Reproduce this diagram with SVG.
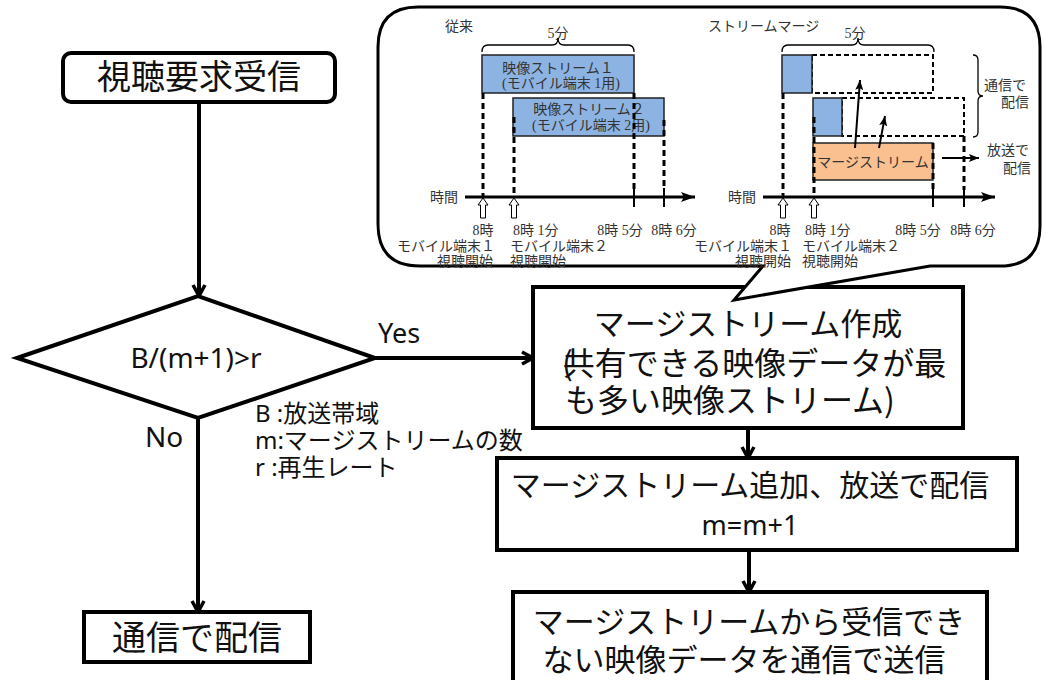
<svg xmlns="http://www.w3.org/2000/svg" width="1046" height="680" viewBox="0 0 1046 680">
<style>
.node{fill:#fff;stroke:#000;stroke-width:4}
.jp{font-family:"Noto Sans CJK JP",sans-serif;fill:#111}
.lat{font-family:"Noto Sans","Noto Sans CJK JP",sans-serif;fill:#111}
.sm{font-family:"Liberation Serif","Noto Sans CJK JP",serif;fill:#333;font-size:14px}
.conn{stroke:#000;stroke-width:4;fill:none;marker-end:url(#ah)}
.dash{stroke:#000;stroke-width:3;stroke-dasharray:6 4;fill:none}
.drect{fill:#fff;stroke:#000;stroke-width:2;stroke-dasharray:5 3}
.blue{fill:#8DB3E2;stroke:#222;stroke-width:1.5}
.orange{fill:#FAC090;stroke:#222;stroke-width:1.5}
.thin{stroke:#000;stroke-width:1.3;fill:none}
.tick{stroke:#000;stroke-width:2;fill:none}
.axis{stroke:#000;stroke-width:3;fill:none;marker-end:url(#ax)}
.sarrow{stroke:#000;stroke-width:2;fill:none;marker-end:url(#sa)}
.hollow{fill:#fff;stroke:#000;stroke-width:1}
</style>
<defs>
<marker id="ah" markerUnits="userSpaceOnUse" viewBox="0 0 16 16" refX="14" refY="8" markerWidth="16" markerHeight="16" orient="auto"><path d="M3,2 L14,8 L3,14" fill="none" stroke="#000" stroke-width="3.5"/></marker>
<marker id="ax" markerUnits="userSpaceOnUse" viewBox="0 0 14 10" refX="14" refY="5" markerWidth="14" markerHeight="10" orient="auto"><path d="M0,0 L14,5 L0,10 L3,5 Z" fill="#000"/></marker>
<marker id="sa" markerUnits="userSpaceOnUse" viewBox="0 0 10 8" refX="10" refY="4" markerWidth="10" markerHeight="8" orient="auto"><path d="M0,0 L10,4 L0,8 L2,4 Z" fill="#000"/></marker>
</defs>

<g id="connectors">
<line class="conn" x1="199" y1="102" x2="199" y2="296"/>
<line class="conn" x1="375" y1="358" x2="533" y2="358"/>
<line class="conn" x1="198" y1="418" x2="198" y2="612"/>
<line class="conn" x1="748" y1="428" x2="748" y2="458"/>
<line class="conn" x1="749" y1="550" x2="749" y2="592"/>
<text class="lat" x="378" y="343" font-size="27">Yes</text>
<text class="lat" x="145" y="447" font-size="28">No</text>
</g>

<g id="start">
<rect class="node" x="63" y="53" width="272" height="49" rx="8" stroke-width="3"/>
<text class="jp" x="199" y="89" font-size="34" text-anchor="middle">視聴要求受信</text>
</g>

<g id="decision">
<polygon class="node" points="17,358 198,296 375,358 198,418"/>
<text class="lat" x="196" y="368" font-size="28" text-anchor="middle">B/(m+1)&gt;r</text>
</g>

<g id="legend">
<text class="lat" x="255" y="422" font-size="24">B :放送帯域</text>
<text class="lat" x="255" y="449" font-size="24">m:マージストリームの数</text>
<text class="lat" x="255" y="476" font-size="24">r :再生レート</text>
</g>

<g id="comm">
<rect class="node" x="84" y="612" width="226" height="50"/>
<text class="jp" x="197" y="650" font-size="34" text-anchor="middle">通信で配信</text>
</g>

<g id="create">
<rect class="node" x="533" y="287" width="430" height="141" stroke-width="4.5"/>
<text class="jp" x="748" y="335" font-size="31" text-anchor="middle">マージストリーム作成</text>
<text class="jp" x="562" y="375" font-size="32">(<tspan dx="-10">共有できる映像データが最</tspan></text>
<text class="jp" x="565" y="412" font-size="32">も多い映像ストリーム)</text>
</g>

<g id="add">
<rect class="node" x="497" y="458" width="520" height="92"/>
<text class="jp" x="750" y="496" font-size="30" text-anchor="middle">マージストリーム追加、放送で配信</text>
<text class="lat" x="750" y="535" font-size="27" text-anchor="middle">m=m+1</text>
</g>

<g id="send">
<rect class="node" x="513" y="592" width="474" height="110"/>
<text class="jp" x="749" y="633" font-size="31" text-anchor="middle">マージストリームから受信でき</text>
<text class="jp" x="744" y="671" font-size="31" text-anchor="middle">ない映像データを通信で送信</text>
</g>

<g id="callout">
<path d="M418,7 H1000 Q1040,7 1040,47 V226 Q1040,266 1000,266 H930 L734,300 L763,266 H420 Q378,266 378,224 V47 Q378,7 418,7 Z" fill="#fff" stroke="#000" stroke-width="3"/>

<!-- left panel -->
<text class="sm" x="445" y="31" font-size="16">従来</text>
<text class="sm" x="558" y="38" font-size="13" text-anchor="middle">5分</text>
<path class="thin" d="M482,52 Q482,45 488,45 H552 Q558,45 558,38 Q558,45 564,45 H628 Q634,45 634,52"/>
<rect class="blue" x="482" y="55" width="152" height="38"/>
<text class="sm" x="558" y="73" font-size="13" text-anchor="middle">映像ストリーム１</text>
<text class="sm" x="561" y="88" font-size="13" text-anchor="middle">(モバイル端末 1用)</text>
<rect class="blue" x="513" y="98" width="151" height="38"/>
<text class="sm" x="589" y="114" font-size="13" text-anchor="middle">映像ストリーム２</text>
<text class="sm" x="591" y="130" font-size="13" text-anchor="middle">(モバイル端末 2用)</text>
<line class="dash" x1="483" y1="93" x2="483" y2="197"/>
<line class="dash" x1="514" y1="117" x2="514" y2="197"/>
<line class="dash" x1="634" y1="93" x2="634" y2="190"/>
<line class="dash" x1="664" y1="120" x2="664" y2="190"/>
<text class="sm" x="430" y="202" font-size="13">時間</text>
<line class="axis" x1="465" y1="197" x2="695" y2="197"/>
<line class="tick" x1="634" y1="188" x2="634" y2="207"/>
<line class="tick" x1="664" y1="188" x2="664" y2="207"/>
<path class="hollow" d="M483,198 L488,205 L485.5,205 L485.5,218 L480.5,218 L480.5,205 L478,205 Z"/>
<path class="hollow" d="M514,198 L519,205 L516.5,205 L516.5,218 L511.5,218 L511.5,205 L509,205 Z"/>
<text class="sm" x="483" y="235" text-anchor="middle">8時</text>
<text class="sm" x="513" y="235">8時 1分</text>
<text class="sm" x="620" y="235" text-anchor="middle">8時 5分</text>
<text class="sm" x="674" y="235" text-anchor="middle">8時 6分</text>
<text class="sm" x="495" y="251" text-anchor="end">モバイル端末１</text>
<text class="sm" x="510" y="251">モバイル端末２</text>
<text class="sm" x="493" y="266" text-anchor="end">視聴開始</text>
<text class="sm" x="510" y="266">視聴開始</text>

<!-- right panel -->
<text class="sm" x="708" y="31" font-size="15">ストリームマージ</text>
<text class="sm" x="855" y="38" font-size="13" text-anchor="middle">5分</text>
<path class="thin" d="M782,52 Q782,45 788,45 H852 Q858,45 858,38 Q858,45 864,45 H928 Q934,45 934,52"/>
<rect class="drect" x="812" y="55" width="121" height="38"/>
<rect class="blue" x="782" y="55" width="30" height="38"/>
<rect class="drect" x="842" y="98" width="122" height="38"/>
<rect class="blue" x="813" y="98" width="29" height="38"/>
<rect class="orange" x="813" y="143" width="120" height="37"/>
<text class="sm" x="873" y="167" font-size="13" text-anchor="middle">マージストリーム</text>
<line class="sarrow" x1="855" y1="148" x2="860" y2="80"/>
<line class="sarrow" x1="879" y1="148" x2="885" y2="116"/>
<line class="sarrow" x1="942" y1="158" x2="979" y2="158"/>
<path class="thin" d="M973,55 Q978,55 978,60 V91 Q978,96 983,96 Q978,96 978,101 V132 Q978,137 973,137"/>
<text class="sm" x="984" y="90" font-size="15">通信で</text>
<text class="sm" x="1029" y="107" font-size="15" text-anchor="end">配信</text>
<text class="sm" x="987" y="155" font-size="15">放送で</text>
<text class="sm" x="1031" y="173" font-size="15" text-anchor="end">配信</text>
<line class="dash" x1="783" y1="93" x2="783" y2="197"/>
<line class="dash" x1="814" y1="117" x2="814" y2="197"/>
<line class="dash" x1="933" y1="143" x2="933" y2="190"/>
<line class="dash" x1="964" y1="136" x2="964" y2="190"/>
<text class="sm" x="728" y="202" font-size="13">時間</text>
<line class="axis" x1="763" y1="197" x2="995" y2="197"/>
<line class="tick" x1="933" y1="188" x2="933" y2="207"/>
<line class="tick" x1="964" y1="188" x2="964" y2="207"/>
<path class="hollow" d="M783,198 L788,205 L785.5,205 L785.5,218 L780.5,218 L780.5,205 L778,205 Z"/>
<path class="hollow" d="M814,198 L819,205 L816.5,205 L816.5,218 L811.5,218 L811.5,205 L809,205 Z"/>
<text class="sm" x="780" y="235" text-anchor="middle">8時</text>
<text class="sm" x="805" y="235">8時 1分</text>
<text class="sm" x="918" y="235" text-anchor="middle">8時 5分</text>
<text class="sm" x="973" y="235" text-anchor="middle">8時 6分</text>
<text class="sm" x="792" y="251" text-anchor="end">モバイル端末１</text>
<text class="sm" x="802" y="251">モバイル端末２</text>
<text class="sm" x="791" y="266" text-anchor="end">視聴開始</text>
<text class="sm" x="802" y="266">視聴開始</text>
</g>
</svg>
